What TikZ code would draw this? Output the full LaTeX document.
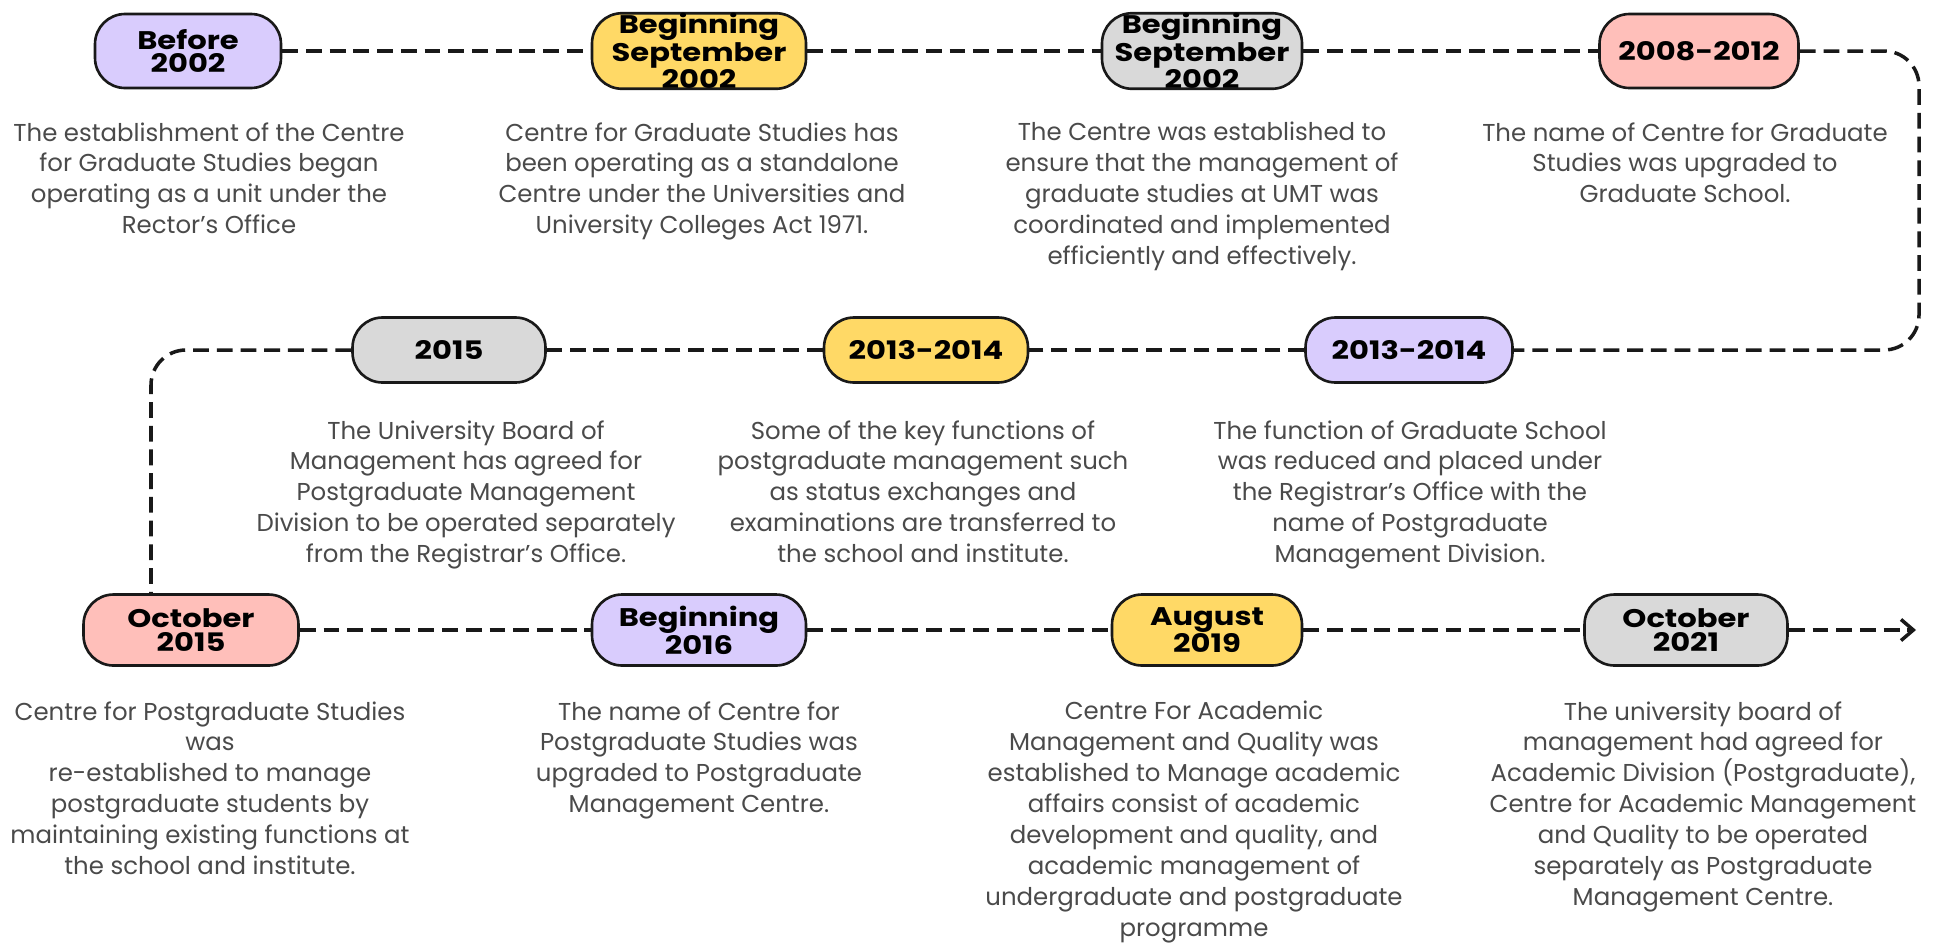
\documentclass[tikz,border=0pt]{standalone}
\usepackage{fontspec}
\setmainfont{Poppins}
\newfontfamily\pillfont{Poppins}[FakeStretch=1.2]
\usetikzlibrary{arrows.meta}
\definecolor{lilac}{HTML}{D9CCFD}
\definecolor{sunny}{HTML}{FFD966}
\definecolor{stone}{HTML}{D9D9D9}
\definecolor{salmon}{HTML}{FFBFBA}
\definecolor{ink}{HTML}{4A4A4A}

\begin{document}
\begin{tikzpicture}[x=0.02cm, y=-0.02cm,
  pill/.style={draw=black!90, line width=1.5pt, rounded corners=0.6cm, inner sep=0pt,
    align=center, font=\pillfont\bfseries\fontsize{14.5}{13.5}\selectfont},
  row1/.style={pill, minimum height=1.48cm},
  row2/.style={pill, minimum height=1.3cm},
  row3/.style={pill, minimum height=1.42cm},
  blurb/.style={anchor=north, align=center, inner sep=0pt, text=ink,
    font=\fontsize{13.9}{17.6}\selectfont},
  link/.style={draw=black!90, line width=2pt, dash pattern=on 9pt off 4.5pt}]
    \useasboundingbox (0,0) rectangle (1941,948);
    \coordinate (turnR) at (1919,0);
    \coordinate (turnL) at (151,0);
    \coordinate (arrowEnd) at (1916,630);

    \node[row1, fill=lilac, minimum width=3.72cm] (before) at (188,51) {Before\\2002};
    \node[row1, fill=sunny, minimum width=4.28cm] (bsep1) at (699,51) {Beginning\\September\\2002};
    \node[row1, fill=stone, minimum width=4cm] (bsep2) at (1202,51) {Beginning\\September\\2002};
    \node[row1, fill=salmon, minimum width=3.98cm] (p0812) at (1699,51) {2008-2012};

    \node[row2, fill=lilac, minimum width=4.14cm] (p1314a) at (1409,350) {2013-2014};
    \node[row2, fill=sunny, minimum width=4.08cm] (p1314b) at (926,350) {2013-2014};
    \node[row2, fill=stone, minimum width=3.86cm] (p2015) at (449,350) {2015};

    \node[row3, fill=salmon, minimum width=4.3cm] (oct15) at (191,630) {October\\2015};
    \node[row3, fill=lilac, minimum width=4.28cm] (beg16) at (699,630) {Beginning\\2016};
    \node[row3, fill=sunny, minimum width=3.8cm] (aug19) at (1207,630) {August\\2019};
    \node[row3, fill=stone, minimum width=4.06cm] (oct21) at (1686,630) {October\\2021};

    \draw[link] (before) -- (bsep1);
    \draw[link] (bsep1) -- (bsep2);
    \draw[link] (bsep2) -- (p0812);
    \draw[link, rounded corners=0.7cm] (p0812.east) -- (turnR |- p0812.east) -- (turnR |- p1314a.east) -- (p1314a.east);
    \draw[link] (p1314a) -- (p1314b);
    \draw[link] (p1314b) -- (p2015);
    \draw[link, rounded corners=0.7cm] (p2015.west) -| (turnL |- oct15.north);
    \draw[link] (oct15) -- (beg16);
    \draw[link] (beg16) -- (aug19);
    \draw[link] (aug19) -- (oct21);
    \draw[link, -{Straight Barb[length=7pt, width=12pt, line width=2pt]}] (oct21) -- (arrowEnd);

    \node[blurb] (t1) at (209,122) {The establishment of the Centre\\for Graduate Studies began\\operating as a unit under the\\Rector's Office};
    \node[blurb] (t2) at (702,122) {Centre for Graduate Studies has\\been operating as a standalone\\Centre under the Universities and\\University Colleges Act 1971.};
    \node[blurb] (t3) at (1202,122) {The Centre was established to\\ensure that the management of\\graduate studies at UMT was\\coordinated and implemented\\efficiently and effectively.};
    \node[blurb] (t4) at (1685,122) {The name of Centre for Graduate\\Studies was upgraded to\\Graduate School.};

    \node[blurb] (t5) at (466,420) {The University Board of\\Management has agreed for\\Postgraduate Management\\Division to be operated separately\\from the Registrar's Office.};
    \node[blurb] (t6) at (923,420) {Some of the key functions of\\postgraduate management such\\as status exchanges and\\examinations are transferred to\\the school and institute.};
    \node[blurb] (t7) at (1410,420) {The function of Graduate School\\was reduced and placed under\\the Registrar's Office with the\\name of Postgraduate\\Management Division.};

    \node[blurb] (t8) at (210,701) {Centre for Postgraduate Studies\\was\\re-established to manage\\postgraduate students by\\maintaining existing functions at\\the school and institute.};
    \node[blurb] (t9) at (699,701) {The name of Centre for\\Postgraduate Studies was\\upgraded to Postgraduate\\Management Centre.};
    \node[blurb] (t10) at (1194,701) {Centre For Academic\\Management and Quality was\\established to Manage academic\\affairs consist of academic\\development and quality, and\\academic management of\\undergraduate and postgraduate\\programme};
    \node[blurb] (t11) at (1703,701) {The university board of\\management had agreed for\\Academic Division (Postgraduate),\\Centre for Academic Management\\and Quality to be operated\\separately as Postgraduate\\Management Centre.};
\end{tikzpicture}
\end{document}
